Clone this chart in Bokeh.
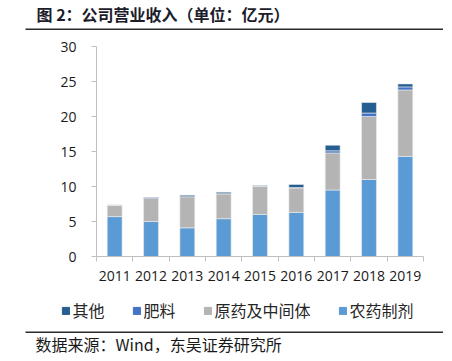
from bokeh.plotting import figure
from bokeh.layouts import column, row
from bokeh.models import (Range1d, FixedTicker, Legend, LegendItem, ColumnDataSource)
from bokeh.core.properties import value
from bokeh.embed import file_html
from bokeh.resources import INLINE

# ---------------- data ----------------
years = ["2011", "2012", "2013", "2014", "2015", "2016", "2017", "2018", "2019"]
formulation = [5.7, 5.0, 4.1, 5.4, 6.0, 6.3, 9.5, 11.0, 14.3]      # 农药制剂
intermediate = [1.65, 3.3, 4.45, 3.55, 4.0, 3.5, 5.3, 9.0, 9.5]   # 原药及中间体
fertilizer = [0.0, 0.0, 0.0, 0.03, 0.08, 0.05, 0.3, 0.5, 0.43]    # 肥料
other = [0.0, 0.12, 0.2, 0.2, 0.08, 0.45, 0.8, 1.5, 0.43]         # 其他
y_ticks = [0, 5, 10, 15, 20, 25, 30]

series_names = ["农药制剂", "原药及中间体", "肥料", "其他"]
series_keys = ["formulation", "intermediate", "fertilizer", "other"]
colors = ["#5B9BD5", "#B4B4B4", "#4472C4", "#255E91"]

title_text = "图 2：公司营业收入（单位：亿元）"
source_text = "数据来源：Wind，东吴证券研究所"

# ---------------- layout geometry ----------------
W = 452
TITLE_H, MAIN_H, LEG_H, SRC_H = 30, 262, 39, 30
FL, FT, FW, FH = 96, 16, 327, 210
RULE_X0, RULE_W = 25, 418
YMAX = 30
n = len(years)
cjk = "Noto Sans CJK SC"
label_font = "Open Sans"
rule_col = "#2b2b2b"
nan = float("nan")


def deco_fig(h):
    f = figure(width=W, height=h, output_backend="svg", toolbar_location=None,
               x_range=Range1d(0, W), y_range=Range1d(h, 0),
               x_axis_type=None, y_axis_type=None, min_border=0)
    f.outline_line_color = None
    f.grid.visible = False
    return f


def add_rule(f, bottom_from_fig_bottom):
    # a horizontal rule drawn as a one-item legend whose glyph is a wide line
    r = f.line(x=[nan], y=[nan], line_color=rule_col, line_width=2)
    lg = Legend(items=[LegendItem(label="", renderers=[r])],
                location=(RULE_X0, bottom_from_fig_bottom),
                glyph_width=RULE_W, glyph_height=2, label_standoff=0,
                label_width=0, label_height=2, label_text_font_size="1px",
                label_text_color="white", padding=0, margin=0, spacing=0,
                border_line_color=None, background_fill_alpha=0)
    f.add_layout(lg, "center")


# ---------------- title + top rule ----------------
top = deco_fig(TITLE_H)
top.text(x=[36], y=[13], text=[title_text], text_font=value(cjk),
         text_font_size="16px", text_font_style="bold", text_color="#1c1c2a",
         text_baseline="middle", text_align="left")
add_rule(top, 0.5)

# ---------------- main chart ----------------
src = ColumnDataSource(dict(
    x=[i + 0.5 for i in range(n)],
    formulation=formulation, intermediate=intermediate,
    fertilizer=fertilizer, other=other,
))

p = figure(width=W, height=MAIN_H, output_backend="svg", toolbar_location=None,
           x_range=Range1d(0, n), y_range=Range1d(0, YMAX),
           min_border_left=FL, min_border_top=FT,
           min_border_right=W - FL - FW, min_border_bottom=MAIN_H - FT - FH)
p.outline_line_color = None
p.grid.visible = False

renderers = p.vbar_stack(series_keys, x="x", width=0.41, source=src,
                         color=colors, line_color="#EDEDED", line_width=0.6)

axis_col = "#BFBFBF"

p.yaxis.ticker = FixedTicker(ticks=y_ticks)
p.yaxis.axis_line_color = axis_col
p.yaxis.major_tick_line_color = axis_col
p.yaxis.major_tick_out = 5
p.yaxis.major_tick_in = 0
p.yaxis.minor_tick_line_color = None
p.yaxis.major_label_standoff = 15
p.yaxis.major_label_text_font = label_font
p.yaxis.major_label_text_font_size = "14px"
p.yaxis.major_label_text_color = "#1a1a1a"

p.xaxis.ticker = FixedTicker(ticks=[i + 0.5 for i in range(n)],
                             minor_ticks=list(range(n + 1)))
p.xaxis.major_label_overrides = {i + 0.5: y for i, y in enumerate(years)}
p.xaxis.axis_line_color = axis_col
p.xaxis.major_tick_line_color = None
p.xaxis.major_tick_out = 0
p.xaxis.major_tick_in = 0
p.xaxis.minor_tick_line_color = axis_col
p.xaxis.minor_tick_out = 5
p.xaxis.minor_tick_in = 0
p.xaxis.major_label_standoff = 9
p.xaxis.major_label_text_font = label_font
p.xaxis.major_label_text_font_size = "14px"
p.xaxis.major_label_text_color = "#1a1a1a"

# ---------------- legend ----------------
leg = deco_fig(LEG_H)
legend_rs = [leg.vbar(x=[nan], top=[nan], width=1, color=c) for c in colors]
items = [LegendItem(label=series_names[i], renderers=[legend_rs[i]]) for i in [3, 2, 1, 0]]
legend = Legend(items=items, orientation="horizontal", location=(60.5, LEG_H - 30),
                glyph_width=9, glyph_height=9, label_standoff=3, spacing=27,
                padding=0, margin=0, border_line_color=None,
                background_fill_alpha=0, label_height=20,
                label_text_font=cjk, label_text_font_size="16px",
                label_text_color="#262626")
leg.add_layout(legend, "center")

# ---------------- bottom rule + source ----------------
srcfig = deco_fig(SRC_H)
add_rule(srcfig, SRC_H - 2)
srcfig.text(x=[35], y=[12], text=[source_text], text_font=value(cjk),
            text_font_size="16px", text_color="#1a1a1a",
            text_baseline="middle", text_align="left")

layout = column(row(top), row(p), row(leg), row(srcfig), spacing=0)
open("out.html", "w").write(file_html(layout, INLINE))
